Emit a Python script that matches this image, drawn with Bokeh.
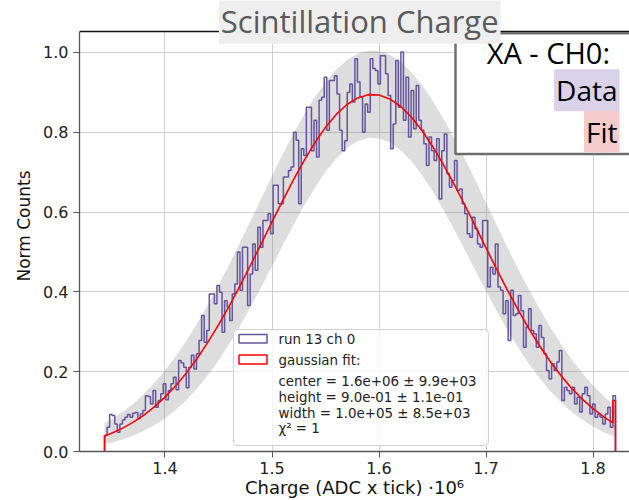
import numpy as np
from bokeh.plotting import figure
from bokeh.models import (Range1d, FixedTicker, Label, BoxAnnotation, Span)
from bokeh.embed import file_html
from bokeh.resources import INLINE

# ---------------- data ----------------
HIST_START = 1.3435   # first bin edge  (x 10^6)
HIST_END = 1.8210     # last bin edge
HIST_COUNTS = [
    0.040, 0.061, 0.093, 0.090, 0.069, 0.048, 0.069, 0.079, 0.086, 0.093,
    0.086, 0.096, 0.098, 0.082, 0.094, 0.103, 0.140, 0.138, 0.119, 0.153,
    0.111, 0.128, 0.145, 0.170, 0.130, 0.153, 0.170, 0.186, 0.155, 0.228,
    0.222, 0.211, 0.160, 0.211, 0.241, 0.207, 0.245, 0.278, 0.341, 0.274,
    0.303, 0.395, 0.395, 0.370, 0.416, 0.399, 0.299, 0.378, 0.362, 0.328,
    0.395, 0.420, 0.500, 0.404, 0.512, 0.512, 0.366, 0.445, 0.520, 0.454,
    0.562, 0.512, 0.579, 0.579, 0.596, 0.546, 0.667, 0.667, 0.621, 0.621,
    0.688, 0.688, 0.704, 0.713, 0.800, 0.780, 0.621, 0.759, 0.742, 0.863,
    0.863, 0.754, 0.830, 0.738, 0.880, 0.888, 0.938, 0.805, 0.930, 0.930,
    0.942, 0.896, 0.805, 0.754, 0.779, 0.900, 0.921, 0.876, 0.984, 0.926,
    0.888, 0.800, 0.871, 0.850, 0.984, 0.960, 0.955, 0.921, 0.992, 0.992,
    0.947, 0.892, 0.759, 0.821, 0.980, 0.863, 1.001, 0.830, 0.938, 0.788,
    0.905, 0.809, 0.917, 0.830, 0.805, 0.771, 0.717, 0.788, 0.754, 0.729,
    0.784, 0.633, 0.754, 0.796, 0.696, 0.662, 0.679, 0.729, 0.654, 0.658,
    0.621, 0.596, 0.546, 0.537, 0.587, 0.558, 0.520, 0.512, 0.579, 0.579,
    0.412, 0.462, 0.445, 0.520, 0.412, 0.404, 0.345, 0.378, 0.278, 0.404,
    0.341, 0.345, 0.391, 0.353, 0.261, 0.312, 0.358, 0.303, 0.295, 0.261,
    0.316, 0.286, 0.245, 0.203, 0.182, 0.220, 0.203, 0.224, 0.253, 0.128,
    0.161, 0.153, 0.145, 0.161, 0.119, 0.136, 0.099, 0.145, 0.161, 0.140,
    0.094, 0.119, 0.086, 0.094, 0.086, 0.069, 0.094, 0.111, 0.061, 0.140,
]

FIT_X = [1.3435, 1.3435, 1.35, 1.36, 1.37, 1.38, 1.39, 1.40, 1.41, 1.42, 1.43,
         1.44, 1.45, 1.46, 1.47, 1.48, 1.49, 1.50, 1.51, 1.52, 1.53,
         1.54, 1.55, 1.56, 1.57, 1.58, 1.59, 1.60, 1.61, 1.62, 1.63,
         1.64, 1.65, 1.66, 1.67, 1.68, 1.69, 1.70, 1.71, 1.72, 1.73,
         1.74, 1.75, 1.76, 1.77, 1.78, 1.79, 1.80, 1.81, 1.8186, 1.8186,
         1.8210, 1.8210]
FIT_Y = [0.0, 0.039, 0.0456, 0.0579, 0.0729, 0.0907, 0.1117, 0.1363, 0.1647, 0.1970, 0.2332,
         0.2734, 0.3174, 0.3646, 0.4149, 0.4674, 0.5211, 0.5753, 0.6289, 0.6806, 0.7292,
         0.7736, 0.8124, 0.8447, 0.8696, 0.8862, 0.8943, 0.8934, 0.8836, 0.8653, 0.8389,
         0.8051, 0.7651, 0.7198, 0.6705, 0.6184, 0.5646, 0.5103, 0.4567, 0.4046, 0.3550,
         0.3083, 0.2651, 0.2256, 0.1902, 0.1587, 0.1311, 0.1072, 0.0868, 0.0719, 0.128,
         0.128, 0.0]

BAND_X = [1.3435, 1.35, 1.36, 1.37, 1.38, 1.39, 1.40, 1.41, 1.42, 1.43,
          1.44, 1.45, 1.46, 1.47, 1.48, 1.49, 1.50, 1.51, 1.52, 1.53,
          1.54, 1.55, 1.56, 1.57, 1.58, 1.59, 1.60, 1.61, 1.62, 1.63,
          1.64, 1.65, 1.66, 1.67, 1.68, 1.69, 1.70, 1.71, 1.72, 1.73,
          1.74, 1.75, 1.76, 1.77, 1.78, 1.79, 1.80, 1.81, 1.821]
BAND_HI = [0.0707, 0.0802, 0.0982, 0.1193, 0.1437, 0.1717, 0.2032, 0.2386, 0.2778, 0.3207,
           0.3670, 0.4166, 0.4688, 0.5230, 0.5787, 0.6349, 0.6905, 0.7447, 0.7965, 0.8445,
           0.8880, 0.9257, 0.9569, 0.9807, 0.9967, 1.0043, 1.0035, 0.9941, 0.9766, 0.9511,
           0.9186, 0.8797, 0.8353, 0.7864, 0.7341, 0.6795, 0.6236, 0.5675, 0.5121, 0.4582,
           0.4064, 0.3575, 0.3119, 0.2696, 0.2313, 0.1966, 0.1657, 0.1385, 0.1127]
BAND_LO = [0.0188, 0.0225, 0.0299, 0.0393, 0.0511, 0.0656, 0.0832, 0.1042, 0.1290, 0.1579,
           0.1909, 0.2281, 0.2693, 0.3142, 0.3622, 0.4125, 0.4643, 0.5164, 0.5675, 0.6162,
           0.6612, 0.7011, 0.7345, 0.7604, 0.7778, 0.7862, 0.7853, 0.7751, 0.7559, 0.7284,
           0.6936, 0.6526, 0.6067, 0.5574, 0.5060, 0.4539, 0.4023, 0.3524, 0.3050, 0.2608,
           0.2204, 0.1840, 0.1518, 0.1238, 0.0997, 0.0794, 0.0624, 0.0485, 0.0363]

X_TICKS = [1.4, 1.5, 1.6, 1.7, 1.8]
X_TICK_LABELS = ["1.4", "1.5", "1.6", "1.7", "1.8"]
Y_TICKS = [0.0, 0.2, 0.4, 0.6, 0.8, 1.0]
Y_TICK_LABELS = ["0.0", "0.2", "0.4", "0.6", "0.8", "1.0"]

TITLE = "Scintillation Charge"
X_LABEL = "Charge (ADC x tick) \u00b710\u2076"
Y_LABEL = "Norm Counts"
HIST_LABEL = "run 13 ch 0"
FIT_LABEL = "gaussian fit:"
FIT_LINES = ["center = 1.6e+06 \u00b1 9.9e+03",
             "height = 9.0e-01 \u00b1 1.1e-01",
             "width = 1.0e+05 \u00b1 8.5e+03",
             "\u03c7\u00b2 = 1"]
BOX_TITLE = "XA - CH0:"

# ---------------- layout ----------------
W, H = 629, 500
FL, FR, FT, FB = 79, 629, 31, 451      # plot area (spines) in pixels
X0, X1 = 1.3201, 1.8341
Y0, Y1 = 0.0, 1.0526                   # visible axis span (spine to spine)
Y_TOP = Y1 + FT * (Y1 - Y0) / (FB - FT)  # frame reaches the top of the canvas


def dx(px):
    return X0 + (px - FL) * (X1 - X0) / (FR - FL)


def dy(py):
    return Y1 - (py - FT) * (Y1 - Y0) / (FB - FT)


PURPLE = "#65559f"
RED = "#ff0000"

p = figure(width=W, height=H, output_backend="svg", toolbar_location=None,
           x_range=Range1d(X0, X1), y_range=Range1d(Y0, Y_TOP),
           min_border_left=FL, min_border_right=W - FR,
           min_border_top=0, min_border_bottom=H - FB)
p.title = None
p.outline_line_color = None
p.background_fill_color = "white"
p.border_fill_color = "white"

# band
p.varea(x=BAND_X, y1=BAND_LO, y2=BAND_HI, fill_color="#808080", fill_alpha=0.27)

# histogram step outline
edges = np.linspace(HIST_START, HIST_END, len(HIST_COUNTS) + 1)
counts = np.array(HIST_COUNTS)
hx = np.concatenate([[edges[0]], np.repeat(edges, 2)[1:-1], [edges[-1]]])
hy = np.concatenate([[0.0], np.repeat(counts, 2), [0.0]])
p.line(hx, hy, line_color=PURPLE, line_width=1.5)

# fit
p.line(FIT_X, FIT_Y, line_color=RED, line_width=1.6)

# axes
for ax in (p.xaxis[0], p.yaxis[0]):
    ax.axis_line_color = "#555555"
    ax.axis_line_width = 1.3
    ax.major_tick_line_color = "#555555"
    ax.major_tick_out = 6
    ax.major_tick_in = 0
    ax.minor_tick_line_color = None
    ax.major_label_text_font = "DejaVu Sans"
    ax.major_label_text_font_size = "16px"
    ax.major_label_text_color = "#222222"
    ax.axis_label_text_font = "DejaVu Sans"
    ax.axis_label_text_font_size = "17px"
    ax.axis_label_text_font_style = "normal"
    ax.axis_label_text_color = "#111111"

p.xaxis.ticker = FixedTicker(ticks=X_TICKS)
p.xaxis.major_label_overrides = dict(zip(X_TICKS, X_TICK_LABELS))
p.yaxis.ticker = FixedTicker(ticks=Y_TICKS)
p.yaxis.major_label_overrides = dict(zip(Y_TICKS, Y_TICK_LABELS))
p.yaxis.bounds = (Y0, Y1)
p.xaxis.axis_label = X_LABEL
p.yaxis.axis_label = Y_LABEL
p.xaxis.axis_label_text_font_size = "18px"
p.xaxis.major_label_standoff = 4
p.xaxis.axis_label_standoff = 0
p.yaxis.major_label_standoff = 5
p.yaxis.axis_label_standoff = 6

p.xgrid.ticker = FixedTicker(ticks=X_TICKS)
p.ygrid.ticker = FixedTicker(ticks=Y_TICKS)
p.grid.grid_line_color = "#cfcfcf"
p.grid.grid_line_width = 1

# blank strip above the top spine, and the top spine itself
p.add_layout(BoxAnnotation(bottom=Y1, fill_color="white", fill_alpha=1.0,
                           line_alpha=0))
p.add_layout(Span(location=Y1, dimension="width", line_color="#111111",
                  line_width=1.5))

# inner legend
p.add_layout(BoxAnnotation(left=dx(233), right=dx(488), top=dy(329), bottom=dy(445),
                           fill_color="white", fill_alpha=0.8,
                           line_color="#d0d0d0", line_alpha=1.0, line_width=1,
                           border_radius=4))
p.add_layout(BoxAnnotation(left=dx(238.5), right=dx(266.5), top=dy(334), bottom=dy(342.5),
                           fill_alpha=0, line_color=PURPLE, line_alpha=1.0, line_width=1.5))
p.add_layout(BoxAnnotation(left=dx(238.5), right=dx(266.5), top=dy(354.5), bottom=dy(363.5),
                           fill_alpha=0, line_color=RED, line_alpha=1.0, line_width=1.5))
leg_font = dict(text_font="DejaVu Sans", text_font_size="13.4px", text_color="#222222",
                text_align="left", text_baseline="middle")
p.add_layout(Label(x=dx(278), y=dy(339), text=HIST_LABEL, **leg_font))
p.add_layout(Label(x=dx(278), y=dy(359.5), text=FIT_LABEL, **leg_font))
for i, t in enumerate(FIT_LINES):
    p.add_layout(Label(x=dx(278), y=dy(381 + 15.8 * i), text=t, **leg_font))

# top-right info box
p.add_layout(BoxAnnotation(left=dx(455), right=X1 + 0.2, top=dy(32.8), bottom=dy(153.5),
                           fill_color="white", fill_alpha=1.0,
                           line_color="#6e6e6e", line_alpha=1.0, line_width=2.5))
p.add_layout(Label(x=dx(609.5), y=dy(52), text=BOX_TITLE, text_font="Open Sans",
                   text_font_size="29px", text_color="black",
                   text_align="right", text_baseline="middle"))
p.add_layout(Label(x=dx(619), y=dy(89.7), text="Data", text_font="Open Sans",
                   text_font_size="28px", text_color="black",
                   text_align="right", text_baseline="middle",
                   background_fill_color="#d9d2e9", padding=2))
p.add_layout(Label(x=dx(619), y=dy(131), text="Fit", text_font="Open Sans",
                   text_font_size="28px", text_color="black",
                   text_align="right", text_baseline="middle",
                   background_fill_color="#f4cccc", padding=2))

# title
p.add_layout(Label(x=dx(359.2), y=dy(20.3), text=TITLE, text_font="Open Sans",
                   text_font_size="31px", text_color="#5a5a5a",
                   text_align="center", text_baseline="middle",
                   background_fill_color="#eeeeee", padding=2))

open("out.html", "w").write(file_html(p, INLINE))
